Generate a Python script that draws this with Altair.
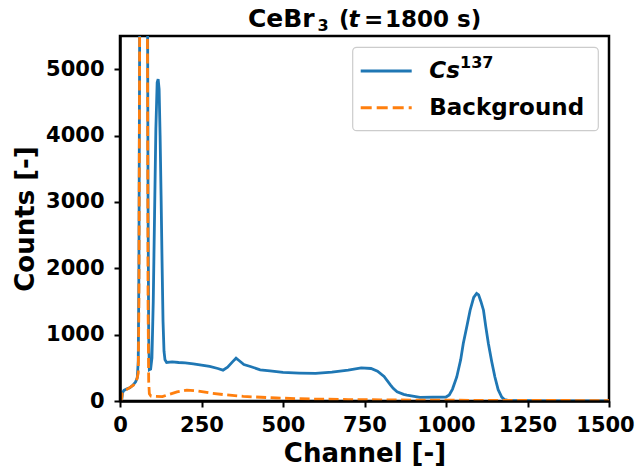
import altair as alt
import pandas as pd

# ---- data ----
cs_channel = [0, 5, 8, 12, 20, 30, 40, 48, 53, 56, 58, 60, 63, 68, 74, 80, 84, 86, 88,
              90, 94, 98, 102, 106, 110, 114, 117, 120, 123, 126, 129, 132, 135, 138,
              143, 160, 180, 200, 225, 250, 275, 300, 316, 330, 345, 356, 365, 380, 400,
              430, 460, 500, 550, 600, 650, 700, 740, 770, 790, 810, 830, 838, 850, 870,
              880, 920, 1000, 1010, 1020, 1033, 1045, 1053, 1065, 1074, 1085, 1094, 1100,
              1107, 1115, 1122, 1130, 1140, 1150, 1160, 1171, 1180, 1190, 1250, 1300,
              1400, 1500]
cs_counts = [0, 0, 130, 160, 180, 200, 240, 290, 350, 600, 2000, 5000, 12000, 20000,
             22000, 15000, 7000, 3000, 1000, 470, 480, 650, 1500, 2800, 4100, 4800, 4850,
             4700, 4000, 3100, 2100, 1200, 750, 620, 580, 590, 580, 575, 560, 540, 520,
             490, 465, 510, 590, 645, 610, 550, 520, 470, 455, 430, 420, 415, 435, 465,
             500, 490, 450, 370, 240, 191, 140, 100, 90, 55, 60, 90, 180, 362, 620, 866,
             1150, 1368, 1560, 1620, 1600, 1500, 1368, 1120, 866, 600, 362, 170, 60, 20,
             8, 4, 3, 2, 2]

bg_channel = [0, 4, 7, 12, 25, 41, 51, 56, 58, 60, 63, 68, 74, 80, 84, 86, 88, 90, 95,
              130, 145, 175, 205, 240, 276, 320, 378, 480, 583, 700, 800, 900, 1000,
              1100, 1200, 1300, 1400, 1500]
bg_counts = [0, 0, 120, 150, 186, 237, 312, 420, 1500, 5000, 12000, 20000, 22000, 15000,
             6000, 1500, 300, 110, 75, 65, 90, 136, 165, 150, 121, 95, 70, 45, 30, 22,
             18, 14, 12, 10, 9, 8, 7, 7]

x_ticks = [0, 250, 500, 750, 1000, 1250, 1500]
y_ticks = [0, 1000, 2000, 3000, 4000, 5000]
legend_labels = ["Cs", "137", "Background"]
title_parts = ["CeBr", "3", "(", "t", "=", "1800 s)"]

BLUE = "#1f77b4"
ORANGE = "#ff7f0e"
FONT = "DejaVu Sans"

df = pd.concat([
    pd.DataFrame({"channel": cs_channel, "counts": cs_counts, "series": "Cs137"}),
    pd.DataFrame({"channel": bg_channel, "counts": bg_counts, "series": "Background"}),
])

x_enc = alt.X("channel:Q",
              scale=alt.Scale(domain=[0, 1500], nice=False, zero=False),
              axis=alt.Axis(values=x_ticks, format="d", title="Channel [-]", grid=False,
                            labelFont=FONT, labelFontSize=21, labelFontWeight="bold",
                            labelColor="black", labelPadding=7, labelOverlap=False,
                            labelFlush=False,
                            labelOffset=alt.condition("datum.value == 1500",
                                                      alt.value(-4), alt.value(0)),
                            titleFont=FONT, titleFontSize=26, titleFontWeight="bold",
                            titleColor="black", titleY=60.7, titleBaseline="alphabetic",
                            tickSize=6, tickWidth=2, tickColor="black",
                            domainColor="black", domainWidth=2.5, zindex=1))
y_enc = alt.Y("counts:Q",
              scale=alt.Scale(domain=[0, 5500], nice=False),
              axis=alt.Axis(values=y_ticks, format="d", title="Counts [-]", grid=False,
                            labelFont=FONT, labelFontSize=21, labelFontWeight="bold",
                            labelColor="black", labelPadding=10, labelOverlap=False,
                            labelFlush=False,
                            titleFont=FONT, titleFontSize=26, titleFontWeight="bold",
                            titleColor="black", titleX=-87, titleY=182.5,
                            titleAngle=270, titleBaseline="alphabetic", titleAlign="center",
                            tickSize=6, tickWidth=2, tickColor="black",
                            domainColor="black", domainWidth=2.5, zindex=1))

base = alt.Chart(df)
cs_line = base.transform_filter(alt.datum.series == "Cs137").mark_line(
    color=BLUE, strokeWidth=2.8, clip=True).encode(x=x_enc, y=y_enc, order="channel:Q")
bg_line = base.transform_filter(alt.datum.series == "Background").mark_line(
    color=ORANGE, strokeWidth=2.8, strokeDash=[10, 4.5], clip=True).encode(
    x=x_enc, y=y_enc, order="channel:Q")

one = alt.Chart(pd.DataFrame({"k": [0]}))

legend_box = one.mark_rect(cornerRadius=4, fill="white", fillOpacity=0.8,
                           stroke="#cccccc", strokeWidth=1.2).encode(
    x=alt.value(232.7), x2=alt.value(478.3), y=alt.value(11.3), y2=alt.value(94.7))
leg_blue = one.mark_rule(color=BLUE, strokeWidth=3).encode(
    x=alt.value(240.7), x2=alt.value(291.7), y=alt.value(35))
leg_orange = one.mark_rule(color=ORANGE, strokeWidth=3, strokeDash=[11, 5]).encode(
    x=alt.value(240.7), x2=alt.value(291.7), y=alt.value(71.7))


def txt(s, x, y, size, style="normal"):
    return one.mark_text(align="left", baseline="alphabetic", font=FONT,
                         fontWeight="bold", fontStyle=style, fontSize=size,
                         color="black").encode(
        x=alt.value(x), y=alt.value(y), text=alt.value(s))


leg_t1 = txt(legend_labels[0], 309.3, 41.7, 23, "italic")
leg_t2 = txt(legend_labels[1], 340, 31.6, 16)
leg_t3 = txt(legend_labels[2], 309.3, 79, 23)

tt1 = txt(title_parts[0], 128, -9.3, 25)
tt2 = txt(title_parts[1], 197.5, -5.5, 16)
tt3 = txt(title_parts[2], 219, -9.3, 23)
tt4 = txt(title_parts[3], 228.5, -9.3, 23, "italic")
tt5 = txt(title_parts[4], 244, -9.3, 23)
tt6 = txt(title_parts[5], 265, -9.3, 23)

chart = alt.layer(cs_line, bg_line, legend_box, leg_blue, leg_orange,
                  leg_t1, leg_t2, leg_t3, tt1, tt2, tt3, tt4, tt5, tt6).properties(
    width=489, height=365,
    autosize=alt.AutoSizeParams(type="none"),
    padding={"left": 112, "top": 28, "right": 27, "bottom": 65},
).configure_view(stroke="black", strokeWidth=2.5)

chart.save("out.html", embed_options={"renderer": "svg", "actions": False})
